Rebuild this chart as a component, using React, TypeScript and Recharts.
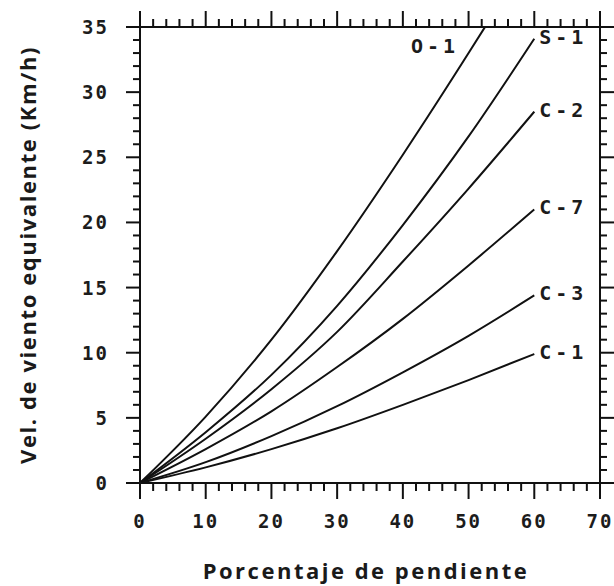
import React from 'react';
import { LineChart, Line, XAxis, YAxis } from 'recharts';

// ---- data ----
const slopeX = [0, 10, 20, 30, 40, 50, 60];
const o1X = [0, 10, 20, 30, 40, 50, 52.5];
const o1 = [0, 5.1, 11.0, 17.8, 25.2, 33.0, 35];
const s1 = [0, 3.9, 8.3, 13.6, 19.8, 26.6, 34.1];
const c2 = [0, 3.4, 7.2, 11.6, 17.0, 22.6, 28.5];
const c7 = [0, 2.6, 5.5, 8.9, 12.6, 16.7, 21.0];
const c3 = [0, 1.6, 3.6, 5.9, 8.5, 11.3, 14.4];
const c1 = [0, 1.2, 2.6, 4.2, 6.0, 7.9, 9.9];

const seriesNames = ['O-1', 'S-1', 'C-2', 'C-7', 'C-3', 'C-1'];

const xTicks = Array.from({ length: 36 }, (_, i) => i * 2);
const yTicks = Array.from({ length: 36 }, (_, i) => i);
const xMajor = [0, 10, 20, 30, 40, 50, 60, 70];
const yMajor = [0, 5, 10, 15, 20, 25, 30, 35];

const xTitle = 'Porcentaje de pendiente';
const yTitle = 'Vel. de viento equivalente (Km/h)';

const toRows = (xs: number[], ys: number[]) => xs.map((x, i) => ({ x, y: ys[i] }));

const INK = '#111';
const tickFont = {
  fontFamily: 'DejaVu Sans Mono',
  fontWeight: 700,
  fontSize: 19,
  fill: '#1c1c1c',
  letterSpacing: 2,
};

const BottomTick = (props: any) => {
  const { x, y, payload } = props;
  const v = payload.value;
  const major = xMajor.includes(v);
  return (
    <g>
      <line x1={x} x2={x} y1={y} y2={y + (major ? 16 : 8)} stroke={INK} strokeWidth={2} />
      {major && (
        <text x={x} y={y + 38} textAnchor="middle" dominantBaseline="central" {...tickFont}>
          {v}
        </text>
      )}
    </g>
  );
};

const TopTick = (props: any) => {
  const { x, y, payload } = props;
  const major = xMajor.includes(payload.value);
  return <line x1={x} x2={x} y1={y} y2={y - (major ? 16 : 8)} stroke={INK} strokeWidth={2} />;
};

const LeftTick = (props: any) => {
  const { x, y, payload } = props;
  const v = payload.value;
  const major = yMajor.includes(v);
  return (
    <g>
      <line x1={x} x2={x - (major ? 14 : 7)} y1={y} y2={y} stroke={INK} strokeWidth={2} />
      {major && (
        <text x={x - 31} y={y} textAnchor="end" dominantBaseline="central" {...tickFont}>
          {v}
        </text>
      )}
    </g>
  );
};

const RightTick = (props: any) => {
  const { x, y, payload } = props;
  const major = yMajor.includes(payload.value);
  return <line x1={x} x2={x + (major ? 14 : 7)} y1={y} y2={y} stroke={INK} strokeWidth={2} />;
};

const labelFont = {
  fontFamily: 'DejaVu Sans Mono',
  fontWeight: 700,
  fontSize: 20,
  fill: '#1c1c1c',
  letterSpacing: 4,
};

const endLabel = (name: string, count: number, left: boolean) => (p: any) => {
  if (p.index !== count - 1) return <g key={`${name}-${p.index}`} />;
  return (
    <text
      key={`${name}-end`}
      x={left ? p.x - 26 : p.x + 5}
      y={left ? p.y + 19 : p.y - 2}
      textAnchor={left ? 'end' : 'start'}
      dominantBaseline="central"
      {...labelFont}
    >
      {name}
    </text>
  );
};

const XTitle = (p: any) => {
  const vb = p.viewBox || {};
  return (
    <text
      x={vb.x + vb.width / 2 - 4}
      y={570}
      textAnchor="middle"
      dominantBaseline="central"
      fontFamily="Open Sans"
      fontWeight={700}
      fontSize={22}
      letterSpacing={2.5}
      fill="#1a1a1a"
    >
      {xTitle}
    </text>
  );
};

const YTitle = (p: any) => {
  const vb = p.viewBox || {};
  const cy = vb.y + vb.height / 2;
  return (
    <text
      x={27}
      y={cy}
      transform={`rotate(-90, 27, ${cy})`}
      textAnchor="middle"
      dominantBaseline="central"
      fontFamily="Open Sans"
      fontWeight={700}
      fontSize={22}
      letterSpacing={1.6}
      fill="#1a1a1a"
    >
      {yTitle}
    </text>
  );
};

const series = [
  { name: seriesNames[0], rows: toRows(o1X, o1), left: true },
  { name: seriesNames[1], rows: toRows(slopeX, s1), left: false },
  { name: seriesNames[2], rows: toRows(slopeX, c2), left: false },
  { name: seriesNames[3], rows: toRows(slopeX, c7), left: false },
  { name: seriesNames[4], rows: toRows(slopeX, c3), left: false },
  { name: seriesNames[5], rows: toRows(slopeX, c1), left: false },
];

export default function App() {
  return (
    <div style={{ position: 'absolute', left: 0, top: 0, width: 614, height: 586, background: '#fff' }}>
      <LineChart width={614} height={586} margin={{ top: 0, right: 0, bottom: 0, left: 0 }}>
        <XAxis
          xAxisId="b"
          dataKey="x"
          type="number"
          domain={[0, 70]}
          ticks={xTicks}
          interval={0}
          orientation="bottom"
          height={103}
          tickSize={0}
          tickMargin={0}
          tickLine={false}
          axisLine={{ stroke: INK, strokeWidth: 2 }}
          tick={<BottomTick />}
          allowDataOverflow
          label={<XTitle />}
        />
        <XAxis
          xAxisId="t"
          dataKey="x"
          type="number"
          domain={[0, 70]}
          ticks={xTicks}
          interval={0}
          orientation="top"
          height={27}
          tickSize={0}
          tickMargin={0}
          tickLine={false}
          axisLine={{ stroke: INK, strokeWidth: 2 }}
          tick={<TopTick />}
          allowDataOverflow
        />
        <YAxis
          yAxisId="l"
          type="number"
          domain={[0, 35]}
          ticks={yTicks}
          interval={0}
          orientation="left"
          width={140}
          tickSize={0}
          tickMargin={0}
          tickLine={false}
          axisLine={{ stroke: INK, strokeWidth: 2 }}
          tick={<LeftTick />}
          allowDataOverflow
          label={<YTitle />}
        />
        <YAxis
          yAxisId="r"
          type="number"
          domain={[0, 35]}
          ticks={yTicks}
          interval={0}
          orientation="right"
          width={14}
          tickSize={0}
          tickMargin={0}
          tickLine={false}
          axisLine={{ stroke: INK, strokeWidth: 2 }}
          tick={<RightTick />}
          allowDataOverflow
        />
        {series.map((s) => (
          <Line
            key={s.name}
            xAxisId="b"
            yAxisId="l"
            data={s.rows}
            dataKey="y"
            name={s.name}
            type="monotone"
            stroke={INK}
            strokeWidth={2}
            dot={false}
            activeDot={false}
            isAnimationActive={false}
            label={endLabel(s.name, s.rows.length, s.left)}
          />
        ))}
      </LineChart>
    </div>
  );
}
